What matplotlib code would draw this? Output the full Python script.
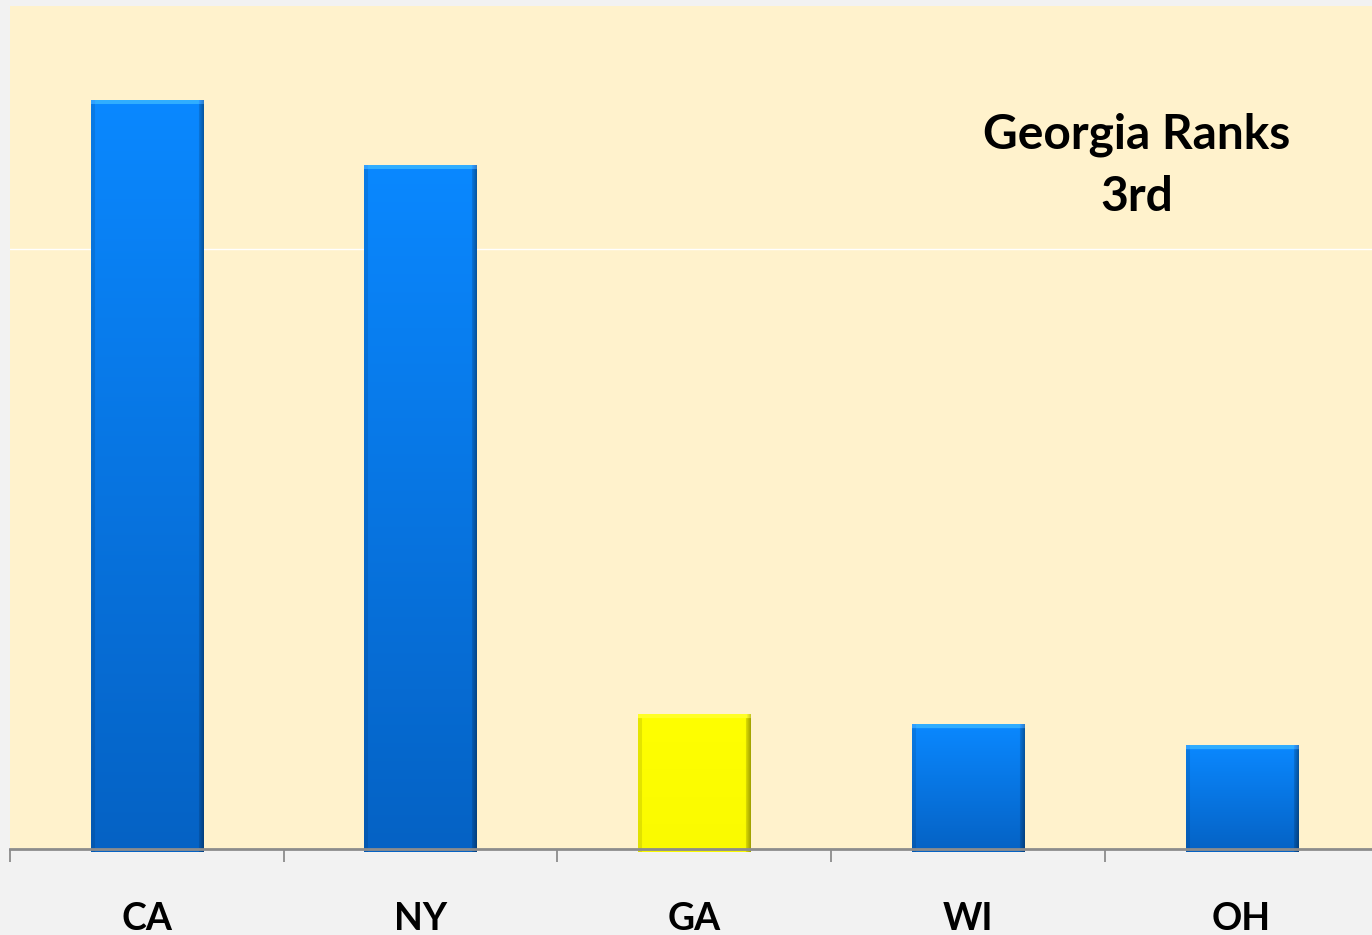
import numpy as np
import matplotlib
matplotlib.use("Agg")
import matplotlib.pyplot as plt

# values (gridline = 10 units)
states = ["CA", "NY", "GA", "WI", "OH"]
values = [12.48, 11.40, 2.25, 2.07, 1.72]
highlight = "GA"
note = "Georgia Ranks\n3rd"

blue_top = np.array([10, 136, 255]) / 255
blue_bot = np.array([5, 98, 196]) / 255
yel_top = np.array([255, 255, 0]) / 255
yel_bot = np.array([250, 250, 0]) / 255

fig = plt.figure(figsize=(13.72, 9.35), dpi=100)
fig.patch.set_facecolor("#f2f2f2")
ax = fig.add_axes([10 / 1372, 1 - 849 / 935, 1368.5 / 1372, 843 / 935])
ax.set_facecolor("#fff2cc")

x = np.arange(len(states))
bars = ax.bar(x, values, width=0.41, color="none", zorder=3)


def shade(top, bot, h=200, w=112):
    t = np.linspace(0, 1, h)[:, None, None]
    img = top * (1 - t) + bot * t
    img = np.repeat(img, w, axis=1)
    u = np.linspace(0, 1, w)
    # darker right edge, slightly darker left edge
    edge = np.ones(w)
    edge[u > 0.955] = np.linspace(0.85, 0.65, (u > 0.955).sum())
    edge[u < 0.03] = 0.9
    img = img * edge[None, :, None]
    # light bevel at top
    img[:4] = np.clip(img[:4] + 0.15, 0, 1)
    return np.clip(img, 0, 1)


for b, s in zip(bars, states):
    x0, y0 = b.get_x(), b.get_y()
    w, h = b.get_width(), b.get_height()
    if s == highlight:
        img = shade(yel_top, yel_bot, h=int(h * 60))
    else:
        img = shade(blue_top, blue_bot, h=int(h * 60))
    im = ax.imshow(img, extent=[x0, x0 + w, y0 - 0.05, y0 + h], aspect="auto",
                   zorder=3, interpolation="bilinear")
    im.set_clip_path(b)
    b.set_y(-0.05)
    b.set_height(h + 0.05)
    b.set_clip_on(False)
    im.set_clip_on(False)

ax.set_xlim(-0.5, len(states) - 0.5)
ax.set_ylim(0, 14.05)

ax.axhline(10, color="white", lw=1, zorder=1)

for side in ["left", "right", "top"]:
    ax.spines[side].set_visible(False)
ax.spines["bottom"].set_color("#8c8c8c")
ax.spines["bottom"].set_linewidth(2)
ax.spines["bottom"].set_zorder(4)

ax.set_yticks([])
ax.set_xticks(np.arange(len(states) + 1) - 0.5)
ax.set_xticklabels([])
ax.tick_params(axis="x", which="major", length=9.5, width=1.3, color="#8c8c8c")
ax.set_xticks(x, minor=True)
ax.set_xticklabels(states, minor=True, fontsize=27, fontweight="bold", family="Lato")
ax.tick_params(axis="x", which="minor", length=0, pad=38)

ax.text(0.8235, 0.811, note, transform=ax.transAxes, ha="center", va="center",
        fontsize=34.5, fontweight="bold", family="Lato", linespacing=1.5)

fig.savefig("out.png", dpi=100, facecolor=fig.get_facecolor())
